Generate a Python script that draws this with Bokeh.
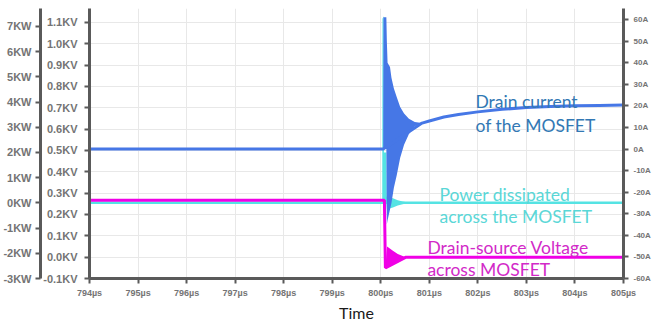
from bokeh.plotting import figure
from bokeh.models import Range1d, LinearAxis, FixedTicker, PrintfTickFormatter, Label
from bokeh.embed import file_html
from bokeh.resources import INLINE

# ---------------- data ----------------
time_ticks = [794, 795, 796, 797, 798, 799, 800, 801, 802, 803, 804, 805]
kv_ticks = [-0.1, 0.0, 0.1, 0.2, 0.3, 0.4, 0.5, 0.6, 0.7, 0.8, 0.9, 1.0, 1.1]
kw_ticks = [-3, -2, -1, 0, 1, 2, 3, 4, 5, 6, 7]
amp_ticks = [-60, -50, -40, -30, -20, -10, 0, 10, 20, 30, 40, 50, 60]

# Drain current (A): steady line + ringing envelope
cur_t = [794.0, 800.05, 800.85, 801.0, 801.3, 801.6, 802.0, 802.5, 803.0, 803.5, 804.0, 804.5, 805.0]
cur_a = [0.0, 0.0, 12.0, 13.0, 14.8, 16.0, 17.2, 18.4, 19.2, 19.7, 20.0, 20.2, 20.4]
cur_ring_t = [800.05, 800.055, 800.115, 800.125, 800.14, 800.19, 800.22, 800.27, 800.33, 800.40, 800.48, 800.58, 800.70, 800.85]
cur_ring_hi = [0.0, 61.0, 61.0, 50.0, 40.0, 38.0, 33.0, 28.0, 24.0, 19.5, 16.5, 14.0, 12.5, 12.0]
cur_ring_lo = [0.0, 0.0, 0.0, -35.0, -33.0, -28.0, -25.0, -18.0, -12.0, -4.0, 2.0, 7.0, 10.5, 12.0]

# Power dissipated (KW): steady level + switching spike / ringing envelope
pow_t = [794.0, 805.0]
pow_kw = [0.0, 0.0]
pow_ring_t = [800.03, 800.035, 800.06, 800.065, 800.115, 800.125, 800.25, 800.35, 800.45, 800.6]
pow_ring_hi = [0.0, 7.3, 7.4, 2.0, 2.0, 0.25, 0.18, 0.10, 0.05, 0.0]
pow_ring_lo = [0.0, 0.0, 0.0, 0.0, 0.0, -0.25, -0.18, -0.10, -0.05, 0.0]

# Drain-source voltage (KV)
vds_t = [794.0, 800.075, 800.095, 800.52, 805.0]
vds_kv = [0.267, 0.267, -0.05, 0.0, 0.0]
vds_ring_t = [800.095, 800.13, 800.25, 800.35, 800.45, 800.52]
vds_ring_hi = [-0.05, 0.05, 0.03, 0.015, 0.006, 0.0]
vds_ring_lo = [-0.05, -0.05, -0.03, -0.015, -0.006, 0.0]

ann_text = ["Drain current", "of the MOSFET",
            "Power dissipated", "across the MOSFET",
            "Drain-source Voltage", "across MOSFET"]
ann_x = [801.95, 801.95, 801.21, 801.21, 800.96, 800.96]
ann_y = [0.728, 0.619, 0.292, 0.189, 0.045, -0.058]
ann_color = ["#3278b4", "#3278b4", "#5ad7d7", "#5ad7d7", "#d22ac8", "#d22ac8"]

# ---------------- styling ----------------
BLUE = "#4677e6"
CYAN = "#55e3e3"
MAG = "#f000e6"
AX = "#5a5a5a"
LBL = "#747474"

p = figure(width=653, height=324, output_backend="svg", toolbar_location=None,
           x_range=Range1d(794, 805), y_range=Range1d(-0.1, 1.165),
           min_border_left=0, min_border_right=0, min_border_top=8, min_border_bottom=0)
p.outline_line_color = None
p.background_fill_color = "white"
p.extra_y_ranges = {"kw": Range1d(-3, 7.71), "amp": Range1d(-60, 65.1)}

kw_axis = LinearAxis(y_range_name="kw")
p.add_layout(kw_axis, "left")
amp_axis = LinearAxis(y_range_name="amp")
p.add_layout(amp_axis, "right")


def style(ax, size, standoff):
    ax.axis_line_color = AX
    ax.axis_line_width = 3
    ax.major_tick_line_color = AX
    ax.major_tick_line_width = 2
    ax.major_tick_out = 5
    ax.major_tick_in = 0
    ax.minor_tick_out = 0
    ax.minor_tick_in = 0
    ax.major_label_text_font = "Liberation Sans"
    ax.major_label_text_font_style = "bold"
    ax.major_label_text_color = LBL
    ax.major_label_text_font_size = size
    ax.major_label_standoff = standoff


xa = p.xaxis[0]
xa.ticker = FixedTicker(ticks=time_ticks)
xa.formatter = PrintfTickFormatter(format="%dµs")
style(xa, "9px", 4)
xa.axis_label = "Time"
xa.axis_label_text_font = "Lato"
xa.axis_label_text_font_style = "normal"
xa.axis_label_text_font_size = "16px"
xa.axis_label_text_color = "#1a1a1a"
xa.axis_label_standoff = 2

ya = p.yaxis[0]
ya.ticker = FixedTicker(ticks=kv_ticks)
ya.formatter = PrintfTickFormatter(format="%.1fKV")
style(ya, "11px", 7)

kw_axis.ticker = FixedTicker(ticks=kw_ticks)
kw_axis.formatter = PrintfTickFormatter(format="%dKW")
style(kw_axis, "11px", 4)

amp_axis.ticker = FixedTicker(ticks=amp_ticks)
amp_axis.formatter = PrintfTickFormatter(format="%dA")
style(amp_axis, "8px", 5)

p.xgrid.ticker = FixedTicker(ticks=time_ticks)
p.ygrid.ticker = FixedTicker(ticks=kv_ticks)
p.xgrid.grid_line_color = "#e8e8e8"
p.ygrid.grid_line_color = "#e8e8e8"

# ---------------- traces ----------------
p.varea(x=pow_ring_t, y1=pow_ring_lo, y2=pow_ring_hi, fill_color=CYAN, y_range_name="kw")
p.line(pow_t, pow_kw, line_color=CYAN, line_width=2.5, y_range_name="kw")

p.varea(x=cur_ring_t, y1=cur_ring_lo, y2=cur_ring_hi, fill_color=BLUE, y_range_name="amp")
p.line(cur_t, cur_a, line_color=BLUE, line_width=3, y_range_name="amp")

p.varea(x=vds_ring_t, y1=vds_ring_lo, y2=vds_ring_hi, fill_color=MAG)
p.line(vds_t, vds_kv, line_color=MAG, line_width=3)

for t, x, y, c in zip(ann_text, ann_x, ann_y, ann_color):
    p.add_layout(Label(x=x, y=y, text=t, text_color=c, text_font="Lato",
                       text_font_size="17.5px", text_baseline="alphabetic",
                       text_align="left"))

open("out.html", "w").write(file_html(p, INLINE))
